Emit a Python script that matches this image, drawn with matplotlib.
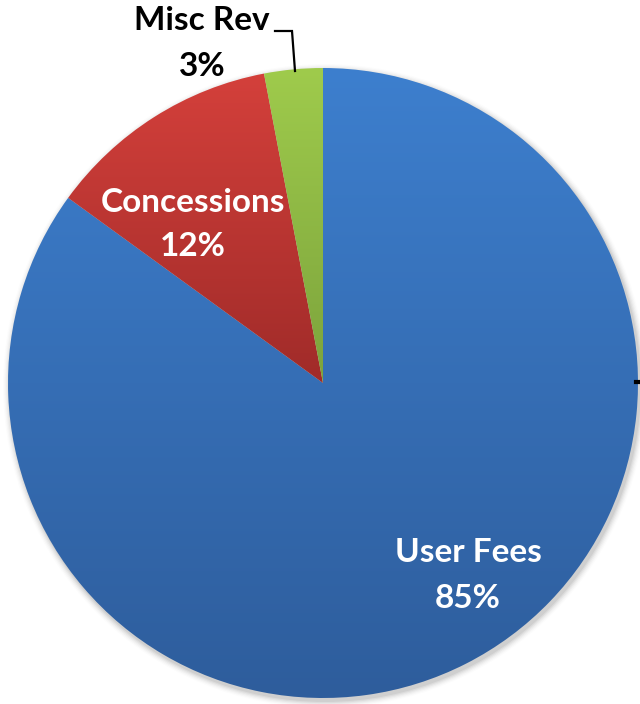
import numpy as np
import matplotlib
matplotlib.use("Agg")
import matplotlib.pyplot as plt
from matplotlib.colors import LinearSegmentedColormap

categories = ["User Fees", "Concessions", "Misc Rev"]
shares = [85, 12, 3]

# top / bottom colours of each slice's vertical gradient
grad_top = ["#3d7fce", "#d4403b", "#9fcb4c"]
grad_bot = ["#2e5d9c", "#a02b29", "#7ca33c"]

W, H = 640, 704
fig = plt.figure(figsize=(W / 100, H / 100), dpi=100)
ax = fig.add_axes([0, 0, 1, 1])

cx, cy, r = 323, H - 383, 315

# soft shadow under the pie
for i, a in enumerate(np.linspace(0.05, 0.012, 6)):
    sh = plt.Circle((cx + 2, cy - 3), r + 1 + i * 1.2, color="black", alpha=a, lw=0, zorder=0)
    ax.add_patch(sh)

wedges, _ = ax.pie(shares, startangle=90, counterclock=False, center=(cx, cy),
                   radius=r, frame=True,
                   wedgeprops=dict(facecolor="none", edgecolor="none", linewidth=0))
ax.set_xlim(0, W)
ax.set_ylim(0, H)
ax.set_aspect("equal")
ax.axis("off")

for w, ct, cb in zip(wedges, grad_top, grad_bot):
    bb = w.get_path().get_extents(w.get_patch_transform())
    y0, y1 = bb.y0, bb.y1
    cmap = LinearSegmentedColormap.from_list("g", [cb, ct])
    grad = np.linspace(0, 1, 256).reshape(-1, 1)
    im = ax.imshow(grad, cmap=cmap, origin="lower", aspect="auto",
                   extent=(cx - r, cx + r, y0, y1), zorder=2, interpolation="bilinear")
    im.set_clip_path(w)
    w.set_zorder(3)

ax.set_xlim(0, W)
ax.set_ylim(0, H)

font = "Lato"
fs = 24
lab_pos = [(468, H - 553, "white"), (193, H - 202, "white"), (202, H - 21, "black")]
for name, val, (x, y, col) in zip(categories, shares, lab_pos):
    ax.text(x, y, name, ha="center", va="center", fontsize=fs, fontweight="bold",
            family=font, color=col, zorder=5)
    ax.text(x, y - 45, f"{val}%", ha="center", va="center", fontsize=fs, fontweight="bold",
            family=font, color=col, zorder=5)

# leader line for the small slice
ax.plot([275, 292, 295], [H - 31, H - 31, H - 71], color="black", lw=1.6, zorder=4,
        solid_joinstyle="miter")
# clipped marker at the right edge
ax.plot([636, 640], [H - 382, H - 382], color="black", lw=3, zorder=4)

fig.savefig("out.png", dpi=100)
